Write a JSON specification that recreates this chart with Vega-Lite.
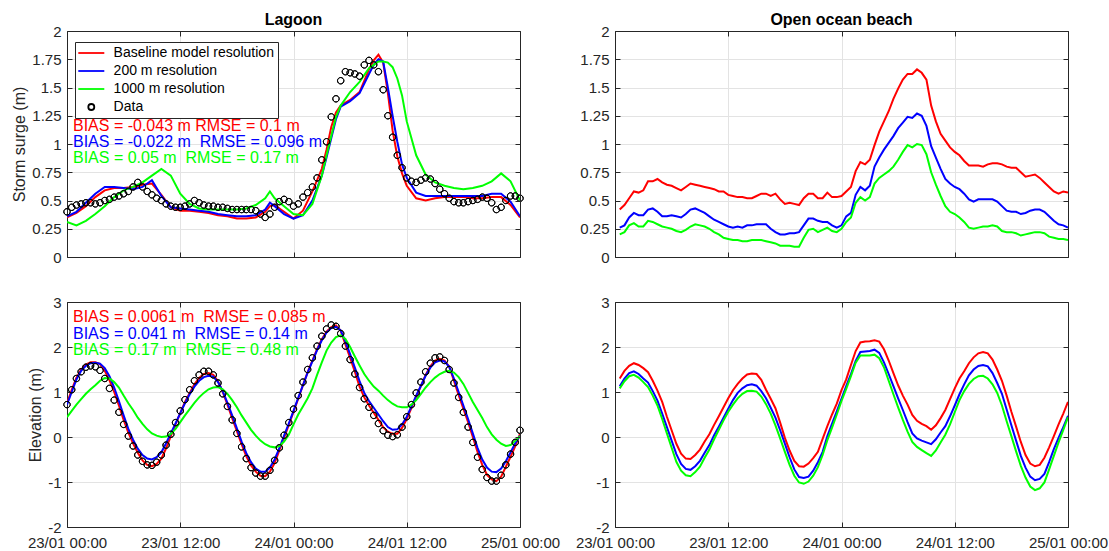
{
"$schema": "https://vega.github.io/schema/vega-lite/v6.json",
"background": "white",
"padding": {"left": 11, "top": 12, "right": 0, "bottom": 0},
"bounds": "flush",
"columns": 2,
"spacing": {"row": 45, "column": 95},
"resolve": {"scale": {"color": "independent", "stroke": "independent", "shape": "independent"}, "legend": {"color": "independent", "stroke": "independent", "shape": "independent"}},
"config": {
  "font": "Liberation Sans",
  "view": {"stroke": null},
  "axis": {"domainColor": "#262626", "domainWidth": 1, "tickColor": "#262626", "tickWidth": 1, "gridColor": "#e3e3e3", "gridWidth": 1, "labelColor": "#262626", "labelFontSize": 15, "titleColor": "#262626", "titleFontSize": 16, "titleFontWeight": "normal"},
  "legend": {"symbolBaseFillColor": "transparent"},
  "title": {"fontSize": 16, "fontWeight": "bold", "color": "#000000", "frame": "group", "offset": -4}
},
"concat": [
{
  "width": 453, "height": 226,
  "title": "Lagoon",
  "layer": [
    {
      "data": {"values": [
{"t":"23 00:00","r":0.35,"b":0.36,"g":0.31},
{"t":"23 01:00","r":0.39,"b":0.40,"g":0.28},
{"t":"23 02:00","r":0.45,"b":0.48,"g":0.32},
{"t":"23 03:00","r":0.53,"b":0.56,"g":0.38},
{"t":"23 04:00","r":0.59,"b":0.62,"g":0.45},
{"t":"23 05:00","r":0.61,"b":0.62,"g":0.53},
{"t":"23 06:00","r":0.61,"b":0.61,"g":0.59},
{"t":"23 07:00","r":0.62,"b":0.60,"g":0.62},
{"t":"23 08:00","r":0.64,"b":0.62,"g":0.66},
{"t":"23 09:00","r":0.65,"b":0.68,"g":0.72},
{"t":"23 10:00","r":0.55,"b":0.54,"g":0.78},
{"t":"23 11:00","r":0.44,"b":0.44,"g":0.72},
{"t":"23 12:00","r":0.41,"b":0.43,"g":0.56},
{"t":"23 13:00","r":0.41,"b":0.42,"g":0.47},
{"t":"23 14:00","r":0.40,"b":0.41,"g":0.43},
{"t":"23 15:00","r":0.39,"b":0.40,"g":0.42},
{"t":"23 16:00","r":0.37,"b":0.38,"g":0.42},
{"t":"23 17:00","r":0.36,"b":0.37,"g":0.42},
{"t":"23 18:00","r":0.34,"b":0.36,"g":0.42},
{"t":"23 19:00","r":0.34,"b":0.36,"g":0.43},
{"t":"23 20:00","r":0.35,"b":0.37,"g":0.46},
{"t":"23 21:00","r":0.40,"b":0.42,"g":0.52},
{"t":"23 21:30","r":0.45,"b":0.48,"g":0.58},
{"t":"23 22:00","r":0.46,"b":0.45,"g":0.52},
{"t":"23 23:00","r":0.40,"b":0.38,"g":0.45},
{"t":"24 00:00","r":0.34,"b":0.34,"g":0.38},
{"t":"24 01:00","r":0.41,"b":0.37,"g":0.37},
{"t":"24 02:00","r":0.58,"b":0.50,"g":0.47},
{"t":"24 03:00","r":0.78,"b":0.72,"g":0.72},
{"t":"24 03:30","r":0.95,"b":0.88,"g":0.90},
{"t":"24 04:00","r":1.15,"b":1.05,"g":1.07},
{"t":"24 04:30","r":1.28,"b":1.22,"g":1.24},
{"t":"24 05:00","r":1.34,"b":1.33,"g":1.34},
{"t":"24 06:00","r":1.39,"b":1.38,"g":1.46},
{"t":"24 07:00","r":1.46,"b":1.45,"g":1.55},
{"t":"24 08:00","r":1.66,"b":1.62,"g":1.67},
{"t":"24 08:30","r":1.74,"b":1.70,"g":1.70},
{"t":"24 09:00","r":1.79,"b":1.75,"g":1.73},
{"t":"24 09:30","r":1.72,"b":1.73,"g":1.73},
{"t":"24 10:00","r":1.45,"b":1.50,"g":1.72},
{"t":"24 10:30","r":1.12,"b":1.25,"g":1.68},
{"t":"24 11:00","r":0.89,"b":1.02,"g":1.58},
{"t":"24 11:30","r":0.74,"b":0.82,"g":1.43},
{"t":"24 12:00","r":0.63,"b":0.70,"g":1.20},
{"t":"24 13:00","r":0.52,"b":0.57,"g":0.90},
{"t":"24 14:00","r":0.50,"b":0.54,"g":0.73},
{"t":"24 15:00","r":0.52,"b":0.54,"g":0.66},
{"t":"24 16:00","r":0.53,"b":0.54,"g":0.63},
{"t":"24 17:00","r":0.53,"b":0.54,"g":0.61},
{"t":"24 18:00","r":0.53,"b":0.54,"g":0.60},
{"t":"24 19:00","r":0.52,"b":0.54,"g":0.61},
{"t":"24 20:00","r":0.52,"b":0.54,"g":0.63},
{"t":"24 21:00","r":0.53,"b":0.56,"g":0.67},
{"t":"24 22:00","r":0.53,"b":0.56,"g":0.74},
{"t":"24 23:00","r":0.46,"b":0.49,"g":0.67},
{"t":"25 00:00","r":0.35,"b":0.36,"g":0.50}
      ], "format": {"parse": {"t": "utc:'%d %H:%M'"}}},
      "transform": [{"fold": ["r", "b", "g"], "as": ["series", "v"]}],
      "mark": {"type": "line", "strokeWidth": 2, "clip": true},
      "encoding": {
        "x": {"field": "t", "type": "temporal",
              "scale": {"type": "utc", "domain": [{"year":1900,"month":1,"date":23,"utc":true},{"year":1900,"month":1,"date":25,"utc":true}]},
              "axis": {"orient": "bottom", "values": [{"year":1900,"month":1,"date":23,"hours":0,"utc":true},{"year":1900,"month":1,"date":23,"hours":12,"utc":true},{"year":1900,"month":1,"date":24,"hours":0,"utc":true},{"year":1900,"month":1,"date":24,"hours":12,"utc":true},{"year":1900,"month":1,"date":25,"hours":0,"utc":true}], "labels": false, "title": null, "grid": true, "tickSize": -5}},
        "y": {"field": "v", "type": "quantitative",
              "scale": {"domain": [0, 2], "nice": false, "zero": false},
              "axis": {"orient": "left", "values": [0,0.25,0.5,0.75,1,1.25,1.5,1.75,2], "labelExpr": "'' + datum.value", "title": "Storm surge (m)", "grid": true, "tickSize": -5, "labelPadding": 11, "titlePadding": 4}},
        "stroke": {"field": "series", "type": "nominal",
                  "scale": {"domain": ["r","b","g","d"], "range": ["#ff0000","#0000ff","#00ff00","#000000"]},
                  "legend": {"orient": "none", "legendX": 8, "legendY": 11, "zindex": 2, "title": null, "labelExpr": "datum.label == 'r' ? 'Baseline model resolution' : datum.label == 'b' ? '200 m resolution' : datum.label == 'g' ? '1000 m resolution' : 'Data'", "labelLimit": 400, "symbolSize": 100, "symbolOffset": 5.3, "labelOffset": 15.3, "symbolStrokeWidth": 1.8, "symbolFillColor": "transparent", "symbolOpacity": 1, "fillColor": "white", "strokeColor": "#262626", "padding": 4, "rowPadding": 4, "labelFontSize": 14, "labelColor": "#000000"}}
      }
    },
    {
      "data": {"values": [
{"t":"23 00:00","v":0.40},{"t":"23 00:30","v":0.44},{"t":"23 01:00","v":0.46},{"t":"23 01:30","v":0.47},
{"t":"23 02:00","v":0.48},{"t":"23 02:30","v":0.48},{"t":"23 03:00","v":0.47},{"t":"23 03:30","v":0.48},
{"t":"23 04:00","v":0.50},{"t":"23 04:30","v":0.51},{"t":"23 05:00","v":0.53},{"t":"23 05:30","v":0.54},
{"t":"23 06:00","v":0.56},{"t":"23 06:30","v":0.58},{"t":"23 07:00","v":0.62},{"t":"23 07:30","v":0.66},
{"t":"23 08:00","v":0.62},{"t":"23 08:30","v":0.58},{"t":"23 09:00","v":0.55},{"t":"23 09:30","v":0.52},
{"t":"23 10:00","v":0.50},{"t":"23 10:30","v":0.47},{"t":"23 11:00","v":0.45},{"t":"23 11:30","v":0.44},
{"t":"23 12:00","v":0.44},{"t":"23 12:30","v":0.45},{"t":"23 13:00","v":0.47},{"t":"23 13:30","v":0.50},
{"t":"23 14:00","v":0.48},{"t":"23 14:30","v":0.46},{"t":"23 15:00","v":0.45},{"t":"23 15:30","v":0.45},
{"t":"23 16:00","v":0.44},{"t":"23 16:30","v":0.44},{"t":"23 17:00","v":0.43},{"t":"23 17:30","v":0.42},
{"t":"23 18:00","v":0.42},{"t":"23 18:30","v":0.42},{"t":"23 19:00","v":0.42},{"t":"23 19:30","v":0.42},
{"t":"23 20:00","v":0.41},{"t":"23 20:30","v":0.38},{"t":"23 21:00","v":0.35},{"t":"23 21:30","v":0.38},
{"t":"23 22:00","v":0.44},{"t":"23 22:30","v":0.49},{"t":"23 23:00","v":0.51},{"t":"23 23:30","v":0.49},
{"t":"24 00:00","v":0.45},{"t":"24 00:30","v":0.47},{"t":"24 01:00","v":0.53},{"t":"24 01:30","v":0.57},
{"t":"24 02:00","v":0.62},{"t":"24 02:30","v":0.70},{"t":"24 03:00","v":0.86},{"t":"24 03:30","v":1.02},
{"t":"24 04:00","v":1.24},{"t":"24 04:30","v":1.40},{"t":"24 05:00","v":1.56},{"t":"24 05:30","v":1.64},
{"t":"24 06:00","v":1.63},{"t":"24 06:30","v":1.62},{"t":"24 07:00","v":1.60},{"t":"24 07:30","v":1.70},
{"t":"24 08:00","v":1.74},{"t":"24 08:30","v":1.70},{"t":"24 09:00","v":1.64},{"t":"24 09:30","v":1.48},
{"t":"24 10:00","v":1.25},{"t":"24 10:30","v":1.06},{"t":"24 11:00","v":0.90},{"t":"24 11:30","v":0.79},
{"t":"24 12:00","v":0.70},{"t":"24 12:30","v":0.67},{"t":"24 13:00","v":0.66},{"t":"24 13:30","v":0.68},
{"t":"24 14:00","v":0.70},{"t":"24 14:30","v":0.69},{"t":"24 15:00","v":0.65},{"t":"24 15:30","v":0.60},
{"t":"24 16:00","v":0.56},{"t":"24 16:30","v":0.52},{"t":"24 17:00","v":0.49},{"t":"24 17:30","v":0.48},
{"t":"24 18:00","v":0.48},{"t":"24 18:30","v":0.49},{"t":"24 19:00","v":0.50},{"t":"24 19:30","v":0.51},
{"t":"24 20:00","v":0.53},{"t":"24 20:30","v":0.52},{"t":"24 21:00","v":0.48},{"t":"24 21:30","v":0.42},
{"t":"24 22:00","v":0.44},{"t":"24 22:30","v":0.50},{"t":"24 23:00","v":0.54},{"t":"24 23:30","v":0.54},
{"t":"25 00:00","v":0.52}
      ], "format": {"parse": {"t": "utc:'%d %H:%M'"}}},
      "mark": {"type": "point", "filled": false, "size": 114, "strokeWidth": 1, "opacity": 1},
      "encoding": {
        "x": {"field": "t", "type": "temporal", "scale": {"type": "utc", "domain": [{"year":1900,"month":1,"date":23,"utc":true},{"year":1900,"month":1,"date":25,"utc":true}]}, "axis": null},
        "y": {"field": "v", "type": "quantitative", "scale": {"domain": [0, 2], "nice": false, "zero": false}, "axis": null},
        "stroke": {"datum": "d", "type": "nominal",
                  "scale": {"domain": ["r","b","g","d"], "range": ["#ff0000","#0000ff","#00ff00","#000000"]},
                  "legend": {"orient": "none", "legendX": 8, "legendY": 11, "zindex": 2, "title": null, "labelExpr": "datum.label == 'r' ? 'Baseline model resolution' : datum.label == 'b' ? '200 m resolution' : datum.label == 'g' ? '1000 m resolution' : 'Data'", "labelLimit": 400, "symbolSize": 100, "symbolOffset": 5.3, "labelOffset": 15.3, "symbolStrokeWidth": 1.8, "symbolFillColor": "transparent", "symbolOpacity": 1, "fillColor": "white", "strokeColor": "#262626", "padding": 4, "rowPadding": 4, "labelFontSize": 14, "labelColor": "#000000"}},
        "shape": {"datum": "d", "type": "nominal",
                  "scale": {"domain": ["r","b","g","d"], "range": ["M-2.6,0H2.6","M-2.6,0H2.6","M-2.6,0H2.6","M0.6,0A0.6,0.6,0,1,1,-0.6,0A0.6,0.6,0,1,1,0.6,0A0.6,0.6,0,1,0,-0.6,0A0.6,0.6,0,1,0,0.6,0Z"]},
                  "legend": {"orient": "none", "legendX": 8, "legendY": 11, "zindex": 2, "title": null, "labelExpr": "datum.label == 'r' ? 'Baseline model resolution' : datum.label == 'b' ? '200 m resolution' : datum.label == 'g' ? '1000 m resolution' : 'Data'", "labelLimit": 400, "symbolSize": 100, "symbolOffset": 5.3, "labelOffset": 15.3, "symbolStrokeWidth": 1.8, "symbolFillColor": "transparent", "symbolOpacity": 1, "fillColor": "white", "strokeColor": "#262626", "padding": 4, "rowPadding": 4, "labelFontSize": 14, "labelColor": "#000000"}}
      }
    },
    {
      "data": {"values": [
        {"t": "23 00:38", "v": 1.161, "series": "r", "label": "BIAS = -0.043 m RMSE = 0.1 m"},
        {"t": "23 00:38", "v": 1.018, "series": "b", "label": "BIAS = -0.022 m\u00a0 RMSE = 0.096 m"},
        {"t": "23 00:38", "v": 0.873, "series": "g", "label": "BIAS = 0.05 m\u00a0 RMSE = 0.17 m"}
      ], "format": {"parse": {"t": "utc:'%d %H:%M'"}}},
      "mark": {"type": "text", "align": "left", "baseline": "middle", "fontSize": 16},
      "encoding": {
        "x": {"field": "t", "type": "temporal", "scale": {"type": "utc", "domain": [{"year":1900,"month":1,"date":23,"utc":true},{"year":1900,"month":1,"date":25,"utc":true}]}, "axis": null},
        "y": {"field": "v", "type": "quantitative", "scale": {"domain": [0, 2], "nice": false, "zero": false}, "axis": null},
        "text": {"field": "label"},
        "color": {"field": "series", "type": "nominal", "scale": {"domain": ["r","b","g","d"], "range": ["#ff0000","#0000ff","#00ff00","#000000"]}, "legend": null}
      }
    },
    {
      "data": {"values": []},
      "mark": "point",
      "encoding": {
        "x": {"field": "t", "type": "temporal", "scale": {"type": "utc", "domain": [{"year":1900,"month":1,"date":23,"utc":true},{"year":1900,"month":1,"date":25,"utc":true}]},
              "axis": {"orient": "top", "values": [{"year":1900,"month":1,"date":23,"hours":0,"utc":true},{"year":1900,"month":1,"date":23,"hours":12,"utc":true},{"year":1900,"month":1,"date":24,"hours":0,"utc":true},{"year":1900,"month":1,"date":24,"hours":12,"utc":true},{"year":1900,"month":1,"date":25,"hours":0,"utc":true}], "labels": false, "title": null, "grid": false, "tickSize": -5, "zindex": 1}},
        "y": {"field": "v", "type": "quantitative", "scale": {"domain": [0, 2], "nice": false, "zero": false},
              "axis": {"orient": "right", "values": [0,0.25,0.5,0.75,1,1.25,1.5,1.75,2], "labels": false, "title": null, "grid": false, "tickSize": -5, "zindex": 1}}
      }
    }
  ]
},
{
  "width": 453, "height": 226,
  "title": "Open ocean beach",
  "layer": [
    {
      "data": {"values": [
{"t":"23 00:30","r":0.42,"b":0.26,"g":0.20},
{"t":"23 01:00","r":0.46,"b":0.28,"g":0.22},
{"t":"23 01:30","r":0.52,"b":0.35,"g":0.28},
{"t":"23 02:00","r":0.58,"b":0.39,"g":0.30},
{"t":"23 02:30","r":0.57,"b":0.37,"g":0.27},
{"t":"23 03:00","r":0.59,"b":0.37,"g":0.27},
{"t":"23 03:30","r":0.67,"b":0.42,"g":0.32},
{"t":"23 04:00","r":0.67,"b":0.43,"g":0.31},
{"t":"23 04:30","r":0.69,"b":0.40,"g":0.29},
{"t":"23 05:00","r":0.66,"b":0.36,"g":0.27},
{"t":"23 05:30","r":0.64,"b":0.36,"g":0.26},
{"t":"23 06:00","r":0.63,"b":0.37,"g":0.25},
{"t":"23 06:30","r":0.61,"b":0.36,"g":0.23},
{"t":"23 07:00","r":0.59,"b":0.35,"g":0.22},
{"t":"23 07:30","r":0.62,"b":0.38,"g":0.24},
{"t":"23 08:00","r":0.65,"b":0.42,"g":0.27},
{"t":"23 08:30","r":0.64,"b":0.43,"g":0.29},
{"t":"23 09:00","r":0.63,"b":0.41,"g":0.28},
{"t":"23 09:30","r":0.62,"b":0.39,"g":0.27},
{"t":"23 10:00","r":0.61,"b":0.36,"g":0.25},
{"t":"23 10:30","r":0.60,"b":0.33,"g":0.22},
{"t":"23 11:00","r":0.58,"b":0.31,"g":0.20},
{"t":"23 11:30","r":0.58,"b":0.29,"g":0.17},
{"t":"23 12:00","r":0.55,"b":0.27,"g":0.16},
{"t":"23 12:30","r":0.54,"b":0.26,"g":0.15},
{"t":"23 13:00","r":0.53,"b":0.27,"g":0.15},
{"t":"23 13:30","r":0.53,"b":0.26,"g":0.14},
{"t":"23 14:00","r":0.52,"b":0.28,"g":0.14},
{"t":"23 14:30","r":0.52,"b":0.28,"g":0.15},
{"t":"23 15:00","r":0.54,"b":0.29,"g":0.15},
{"t":"23 15:30","r":0.56,"b":0.29,"g":0.15},
{"t":"23 16:00","r":0.56,"b":0.29,"g":0.14},
{"t":"23 16:30","r":0.54,"b":0.25,"g":0.13},
{"t":"23 17:00","r":0.56,"b":0.22,"g":0.12},
{"t":"23 17:30","r":0.51,"b":0.20,"g":0.10},
{"t":"23 18:00","r":0.47,"b":0.20,"g":0.10},
{"t":"23 18:30","r":0.48,"b":0.21,"g":0.10},
{"t":"23 19:00","r":0.47,"b":0.21,"g":0.09},
{"t":"23 19:30","r":0.46,"b":0.22,"g":0.09},
{"t":"23 20:00","r":0.52,"b":0.28,"g":0.17},
{"t":"23 20:30","r":0.56,"b":0.34,"g":0.24},
{"t":"23 21:00","r":0.56,"b":0.34,"g":0.25},
{"t":"23 21:30","r":0.52,"b":0.32,"g":0.22},
{"t":"23 22:00","r":0.52,"b":0.31,"g":0.24},
{"t":"23 22:30","r":0.57,"b":0.31,"g":0.26},
{"t":"23 23:00","r":0.53,"b":0.28,"g":0.23},
{"t":"23 23:30","r":0.53,"b":0.26,"g":0.22},
{"t":"24 00:00","r":0.54,"b":0.28,"g":0.25},
{"t":"24 00:30","r":0.58,"b":0.36,"g":0.31},
{"t":"24 01:00","r":0.62,"b":0.39,"g":0.35},
{"t":"24 01:30","r":0.76,"b":0.55,"g":0.48},
{"t":"24 02:00","r":0.84,"b":0.62,"g":0.53},
{"t":"24 02:30","r":0.82,"b":0.59,"g":0.50},
{"t":"24 03:00","r":0.86,"b":0.63,"g":0.53},
{"t":"24 03:30","r":0.99,"b":0.80,"g":0.65},
{"t":"24 04:00","r":1.11,"b":0.88,"g":0.70},
{"t":"24 04:30","r":1.20,"b":0.95,"g":0.73},
{"t":"24 05:00","r":1.29,"b":1.01,"g":0.76},
{"t":"24 05:30","r":1.40,"b":1.07,"g":0.80},
{"t":"24 06:00","r":1.49,"b":1.14,"g":0.86},
{"t":"24 06:30","r":1.57,"b":1.19,"g":0.93},
{"t":"24 07:00","r":1.62,"b":1.24,"g":0.99},
{"t":"24 07:30","r":1.62,"b":1.23,"g":0.97},
{"t":"24 08:00","r":1.66,"b":1.27,"g":1.00},
{"t":"24 08:30","r":1.63,"b":1.25,"g":0.99},
{"t":"24 09:00","r":1.57,"b":1.16,"g":0.91},
{"t":"24 09:30","r":1.34,"b":0.98,"g":0.75},
{"t":"24 10:00","r":1.20,"b":0.88,"g":0.64},
{"t":"24 10:30","r":1.09,"b":0.78,"g":0.54},
{"t":"24 11:00","r":1.03,"b":0.69,"g":0.45},
{"t":"24 11:30","r":0.97,"b":0.65,"g":0.40},
{"t":"24 12:00","r":0.93,"b":0.62,"g":0.38},
{"t":"24 12:30","r":0.90,"b":0.60,"g":0.35},
{"t":"24 13:00","r":0.85,"b":0.56,"g":0.31},
{"t":"24 13:30","r":0.81,"b":0.51,"g":0.26},
{"t":"24 14:00","r":0.81,"b":0.49,"g":0.25},
{"t":"24 14:30","r":0.81,"b":0.51,"g":0.26},
{"t":"24 15:00","r":0.80,"b":0.51,"g":0.27},
{"t":"24 15:30","r":0.82,"b":0.51,"g":0.27},
{"t":"24 16:00","r":0.83,"b":0.51,"g":0.28},
{"t":"24 16:30","r":0.83,"b":0.49,"g":0.27},
{"t":"24 17:00","r":0.82,"b":0.45,"g":0.23},
{"t":"24 17:30","r":0.80,"b":0.41,"g":0.22},
{"t":"24 18:00","r":0.79,"b":0.40,"g":0.22},
{"t":"24 18:30","r":0.79,"b":0.40,"g":0.21},
{"t":"24 19:00","r":0.75,"b":0.38,"g":0.19},
{"t":"24 19:30","r":0.71,"b":0.39,"g":0.20},
{"t":"24 20:00","r":0.72,"b":0.41,"g":0.21},
{"t":"24 20:30","r":0.73,"b":0.42,"g":0.22},
{"t":"24 21:00","r":0.70,"b":0.42,"g":0.22},
{"t":"24 21:30","r":0.66,"b":0.40,"g":0.21},
{"t":"24 22:00","r":0.62,"b":0.36,"g":0.18},
{"t":"24 22:30","r":0.58,"b":0.32,"g":0.17},
{"t":"24 23:00","r":0.56,"b":0.29,"g":0.16},
{"t":"24 23:30","r":0.58,"b":0.28,"g":0.16},
{"t":"25 00:00","r":0.57,"b":0.26,"g":0.15}
      ], "format": {"parse": {"t": "utc:'%d %H:%M'"}}},
      "transform": [{"fold": ["r", "b", "g"], "as": ["series", "v"]}],
      "mark": {"type": "line", "strokeWidth": 2, "clip": true},
      "encoding": {
        "x": {"field": "t", "type": "temporal",
              "scale": {"type": "utc", "domain": [{"year":1900,"month":1,"date":23,"utc":true},{"year":1900,"month":1,"date":25,"utc":true}]},
              "axis": {"orient": "bottom", "values": [{"year":1900,"month":1,"date":23,"hours":0,"utc":true},{"year":1900,"month":1,"date":23,"hours":12,"utc":true},{"year":1900,"month":1,"date":24,"hours":0,"utc":true},{"year":1900,"month":1,"date":24,"hours":12,"utc":true},{"year":1900,"month":1,"date":25,"hours":0,"utc":true}], "labels": false, "title": null, "grid": true, "tickSize": -5}},
        "y": {"field": "v", "type": "quantitative",
              "scale": {"domain": [0, 2], "nice": false, "zero": false},
              "axis": {"orient": "left", "values": [0,0.25,0.5,0.75,1,1.25,1.5,1.75,2], "labelExpr": "'' + datum.value", "title": null, "grid": true, "tickSize": -5, "labelPadding": 11}},
        "stroke": {"field": "series", "type": "nominal",
                  "scale": {"domain": ["r","b","g","d"], "range": ["#ff0000","#0000ff","#00ff00","#000000"]}, "legend": null}
      }
    },
    {
      "data": {"values": []},
      "mark": "point",
      "encoding": {
        "x": {"field": "t", "type": "temporal", "scale": {"type": "utc", "domain": [{"year":1900,"month":1,"date":23,"utc":true},{"year":1900,"month":1,"date":25,"utc":true}]},
              "axis": {"orient": "top", "values": [{"year":1900,"month":1,"date":23,"hours":0,"utc":true},{"year":1900,"month":1,"date":23,"hours":12,"utc":true},{"year":1900,"month":1,"date":24,"hours":0,"utc":true},{"year":1900,"month":1,"date":24,"hours":12,"utc":true},{"year":1900,"month":1,"date":25,"hours":0,"utc":true}], "labels": false, "title": null, "grid": false, "tickSize": -5, "zindex": 1}},
        "y": {"field": "v", "type": "quantitative", "scale": {"domain": [0, 2], "nice": false, "zero": false},
              "axis": {"orient": "right", "values": [0,0.25,0.5,0.75,1,1.25,1.5,1.75,2], "labels": false, "title": null, "grid": false, "tickSize": -5, "zindex": 1}}
      }
    }
  ]
},
{
  "width": 453, "height": 225,
  "data": {"values": [
{"t":"23 00:00","r":0.75,"b":0.72,"g":0.44,"d":0.72},
{"t":"23 00:30","r":1.05,"b":1.00,"g":0.58,"d":1.05},
{"t":"23 01:00","r":1.32,"b":1.28,"g":0.72,"d":1.30},
{"t":"23 01:30","r":1.50,"b":1.47,"g":0.84,"d":1.45},
{"t":"23 02:00","r":1.61,"b":1.58,"g":0.96,"d":1.55},
{"t":"23 02:30","r":1.66,"b":1.64,"g":1.06,"d":1.58},
{"t":"23 03:00","r":1.66,"b":1.65,"g":1.15,"d":1.56},
{"t":"23 03:30","r":1.62,"b":1.63,"g":1.25,"d":1.48},
{"t":"23 04:00","r":1.47,"b":1.53,"g":1.31,"d":1.30},
{"t":"23 04:30","r":1.26,"b":1.35,"g":1.30,"d":1.08},
{"t":"23 05:00","r":1.00,"b":1.10,"g":1.22,"d":0.82},
{"t":"23 05:30","r":0.70,"b":0.80,"g":1.10,"d":0.55},
{"t":"23 06:00","r":0.38,"b":0.48,"g":0.92,"d":0.28},
{"t":"23 06:30","r":0.10,"b":0.18,"g":0.75,"d":0.02},
{"t":"23 07:00","r":-0.14,"b":-0.06,"g":0.60,"d":-0.20},
{"t":"23 07:30","r":-0.35,"b":-0.26,"g":0.43,"d":-0.40},
{"t":"23 08:00","r":-0.52,"b":-0.40,"g":0.29,"d":-0.54},
{"t":"23 08:30","r":-0.62,"b":-0.48,"g":0.17,"d":-0.62},
{"t":"23 09:00","r":-0.65,"b":-0.50,"g":0.08,"d":-0.63},
{"t":"23 09:30","r":-0.60,"b":-0.45,"g":0.03,"d":-0.56},
{"t":"23 10:00","r":-0.48,"b":-0.34,"g":0.00,"d":-0.40},
{"t":"23 10:30","r":-0.25,"b":-0.14,"g":0.01,"d":-0.18},
{"t":"23 11:00","r":0.02,"b":0.08,"g":0.07,"d":0.06},
{"t":"23 11:30","r":0.28,"b":0.30,"g":0.18,"d":0.32},
{"t":"23 12:00","r":0.53,"b":0.53,"g":0.33,"d":0.58},
{"t":"23 12:30","r":0.78,"b":0.75,"g":0.48,"d":0.83},
{"t":"23 13:00","r":0.98,"b":0.95,"g":0.62,"d":1.05},
{"t":"23 13:30","r":1.17,"b":1.12,"g":0.76,"d":1.25},
{"t":"23 14:00","r":1.31,"b":1.25,"g":0.88,"d":1.38},
{"t":"23 14:30","r":1.40,"b":1.33,"g":0.98,"d":1.46},
{"t":"23 15:00","r":1.42,"b":1.36,"g":1.06,"d":1.46},
{"t":"23 15:30","r":1.38,"b":1.34,"g":1.10,"d":1.38},
{"t":"23 16:00","r":1.24,"b":1.22,"g":1.11,"d":1.20},
{"t":"23 16:30","r":1.00,"b":1.02,"g":1.06,"d":0.96},
{"t":"23 17:00","r":0.72,"b":0.76,"g":0.96,"d":0.68},
{"t":"23 17:30","r":0.42,"b":0.48,"g":0.82,"d":0.38},
{"t":"23 18:00","r":0.13,"b":0.19,"g":0.66,"d":0.08},
{"t":"23 18:30","r":-0.16,"b":-0.10,"g":0.48,"d":-0.22},
{"t":"23 19:00","r":-0.43,"b":-0.36,"g":0.32,"d":-0.48},
{"t":"23 19:30","r":-0.63,"b":-0.56,"g":0.16,"d":-0.68},
{"t":"23 20:00","r":-0.77,"b":-0.70,"g":0.03,"d":-0.80},
{"t":"23 20:30","r":-0.86,"b":-0.77,"g":-0.08,"d":-0.87},
{"t":"23 21:00","r":-0.87,"b":-0.77,"g":-0.16,"d":-0.87},
{"t":"23 21:30","r":-0.77,"b":-0.68,"g":-0.21,"d":-0.74},
{"t":"23 22:00","r":-0.58,"b":-0.50,"g":-0.23,"d":-0.52},
{"t":"23 22:30","r":-0.30,"b":-0.25,"g":-0.20,"d":-0.24},
{"t":"23 23:00","r":-0.02,"b":0.03,"g":-0.10,"d":0.04},
{"t":"23 23:30","r":0.27,"b":0.30,"g":0.05,"d":0.32},
{"t":"24 00:00","r":0.56,"b":0.58,"g":0.28,"d":0.62},
{"t":"24 00:30","r":0.85,"b":0.87,"g":0.50,"d":0.92},
{"t":"24 01:00","r":1.15,"b":1.15,"g":0.68,"d":1.22},
{"t":"24 01:30","r":1.44,"b":1.43,"g":0.86,"d":1.50},
{"t":"24 02:00","r":1.70,"b":1.68,"g":1.08,"d":1.76},
{"t":"24 02:30","r":1.95,"b":1.93,"g":1.38,"d":2.02},
{"t":"24 03:00","r":2.17,"b":2.15,"g":1.66,"d":2.24},
{"t":"24 03:30","r":2.34,"b":2.32,"g":1.92,"d":2.40},
{"t":"24 04:00","r":2.44,"b":2.42,"g":2.10,"d":2.49},
{"t":"24 04:30","r":2.48,"b":2.45,"g":2.22,"d":2.46},
{"t":"24 05:00","r":2.36,"b":2.37,"g":2.26,"d":2.30},
{"t":"24 05:30","r":2.06,"b":2.12,"g":2.18,"d":2.02},
{"t":"24 06:00","r":1.76,"b":1.84,"g":2.00,"d":1.72},
{"t":"24 06:30","r":1.45,"b":1.54,"g":1.79,"d":1.40},
{"t":"24 07:00","r":1.12,"b":1.24,"g":1.59,"d":1.10},
{"t":"24 07:30","r":0.88,"b":0.98,"g":1.40,"d":0.85},
{"t":"24 08:00","r":0.70,"b":0.80,"g":1.25,"d":0.66},
{"t":"24 08:30","r":0.54,"b":0.65,"g":1.12,"d":0.48},
{"t":"24 09:00","r":0.38,"b":0.50,"g":1.03,"d":0.30},
{"t":"24 09:30","r":0.22,"b":0.35,"g":0.92,"d":0.14},
{"t":"24 10:00","r":0.12,"b":0.22,"g":0.82,"d":0.04},
{"t":"24 10:30","r":0.07,"b":0.16,"g":0.74,"d":0.01},
{"t":"24 11:00","r":0.07,"b":0.17,"g":0.68,"d":0.05},
{"t":"24 11:30","r":0.20,"b":0.28,"g":0.66,"d":0.22},
{"t":"24 12:00","r":0.40,"b":0.45,"g":0.66,"d":0.45},
{"t":"24 12:30","r":0.65,"b":0.68,"g":0.72,"d":0.72},
{"t":"24 13:00","r":0.90,"b":0.92,"g":0.82,"d":0.98},
{"t":"24 13:30","r":1.13,"b":1.14,"g":0.96,"d":1.22},
{"t":"24 14:00","r":1.38,"b":1.36,"g":1.10,"d":1.45},
{"t":"24 14:30","r":1.57,"b":1.54,"g":1.22,"d":1.64},
{"t":"24 15:00","r":1.70,"b":1.66,"g":1.32,"d":1.76},
{"t":"24 15:30","r":1.74,"b":1.70,"g":1.40,"d":1.78},
{"t":"24 16:00","r":1.70,"b":1.68,"g":1.45,"d":1.70},
{"t":"24 16:30","r":1.56,"b":1.56,"g":1.47,"d":1.50},
{"t":"24 17:00","r":1.25,"b":1.30,"g":1.43,"d":1.20},
{"t":"24 17:30","r":0.93,"b":1.00,"g":1.33,"d":0.88},
{"t":"24 18:00","r":0.63,"b":0.70,"g":1.18,"d":0.55},
{"t":"24 18:30","r":0.33,"b":0.40,"g":0.98,"d":0.22},
{"t":"24 19:00","r":0.00,"b":0.08,"g":0.78,"d":-0.12},
{"t":"24 19:30","r":-0.33,"b":-0.24,"g":0.60,"d":-0.45},
{"t":"24 20:00","r":-0.62,"b":-0.50,"g":0.42,"d":-0.72},
{"t":"24 20:30","r":-0.84,"b":-0.68,"g":0.22,"d":-0.90},
{"t":"24 21:00","r":-0.94,"b":-0.77,"g":0.06,"d":-0.98},
{"t":"24 21:30","r":-0.98,"b":-0.78,"g":-0.06,"d":-0.98},
{"t":"24 22:00","r":-0.88,"b":-0.70,"g":-0.15,"d":-0.85},
{"t":"24 22:30","r":-0.66,"b":-0.54,"g":-0.20,"d":-0.62},
{"t":"24 23:00","r":-0.44,"b":-0.34,"g":-0.18,"d":-0.38},
{"t":"24 23:30","r":-0.20,"b":-0.14,"g":-0.08,"d":-0.12},
{"t":"25 00:00","r":0.07,"b":0.03,"g":0.02,"d":0.15}
  ], "format": {"parse": {"t": "utc:'%d %H:%M'"}}},
  "layer": [
    {
      "transform": [{"fold": ["r", "b", "g"], "as": ["series", "v"]}],
      "mark": {"type": "line", "strokeWidth": 2, "clip": true},
      "encoding": {
        "x": {"field": "t", "type": "temporal",
              "scale": {"type": "utc", "domain": [{"year":1900,"month":1,"date":23,"utc":true},{"year":1900,"month":1,"date":25,"utc":true}]},
              "axis": {"orient": "bottom", "values": [{"year":1900,"month":1,"date":23,"hours":0,"utc":true},{"year":1900,"month":1,"date":23,"hours":12,"utc":true},{"year":1900,"month":1,"date":24,"hours":0,"utc":true},{"year":1900,"month":1,"date":24,"hours":12,"utc":true},{"year":1900,"month":1,"date":25,"hours":0,"utc":true}], "labelExpr": "utcFormat(datum.value, '%d/%m %H:%M')", "labelFlush": false, "labelOverlap": false, "labelPadding": 13, "title": null, "grid": true, "tickSize": -5}},
        "y": {"field": "v", "type": "quantitative",
              "scale": {"domain": [-2, 3], "nice": false, "zero": false},
              "axis": {"orient": "left", "values": [-2,-1,0,1,2,3], "labelExpr": "'' + datum.value", "title": "Elevation (m)", "grid": true, "tickSize": -5, "labelPadding": 11, "titlePadding": 4}},
        "stroke": {"field": "series", "type": "nominal",
                  "scale": {"domain": ["r","b","g","d"], "range": ["#ff0000","#0000ff","#00ff00","#000000"]}, "legend": null}
      }
    },
    {
      "mark": {"type": "point", "filled": false, "size": 114, "strokeWidth": 1, "opacity": 1},
      "encoding": {
        "x": {"field": "t", "type": "temporal", "scale": {"type": "utc", "domain": [{"year":1900,"month":1,"date":23,"utc":true},{"year":1900,"month":1,"date":25,"utc":true}]}, "axis": null},
        "y": {"field": "d", "type": "quantitative", "scale": {"domain": [-2, 3], "nice": false, "zero": false}, "axis": null},
        "stroke": {"datum": "d", "type": "nominal", "scale": {"domain": ["r","b","g","d"], "range": ["#ff0000","#0000ff","#00ff00","#000000"]}, "legend": null},
        "shape": {"datum": "d", "type": "nominal", "scale": {"domain": ["r","b","g","d"], "range": ["M-2.6,0H2.6","M-2.6,0H2.6","M-2.6,0H2.6","M0.6,0A0.6,0.6,0,1,1,-0.6,0A0.6,0.6,0,1,1,0.6,0A0.6,0.6,0,1,0,-0.6,0A0.6,0.6,0,1,0,0.6,0Z"]}, "legend": null}
      }
    },
    {
      "data": {"values": [
        {"t": "23 00:38", "v": 2.662, "series": "r", "label": "BIAS = 0.0061 m\u00a0 RMSE = 0.085 m"},
        {"t": "23 00:38", "v": 2.296, "series": "b", "label": "BIAS = 0.041 m\u00a0 RMSE = 0.14 m"},
        {"t": "23 00:38", "v": 1.927, "series": "g", "label": "BIAS = 0.17 m\u00a0 RMSE = 0.48 m"}
      ], "format": {"parse": {"t": "utc:'%d %H:%M'"}}},
      "mark": {"type": "text", "align": "left", "baseline": "middle", "fontSize": 16},
      "encoding": {
        "x": {"field": "t", "type": "temporal", "scale": {"type": "utc", "domain": [{"year":1900,"month":1,"date":23,"utc":true},{"year":1900,"month":1,"date":25,"utc":true}]}, "axis": null},
        "y": {"field": "v", "type": "quantitative", "scale": {"domain": [-2, 3], "nice": false, "zero": false}, "axis": null},
        "text": {"field": "label"},
        "color": {"field": "series", "type": "nominal", "scale": {"domain": ["r","b","g","d"], "range": ["#ff0000","#0000ff","#00ff00","#000000"]}, "legend": null}
      }
    },
    {
      "data": {"values": []},
      "mark": "point",
      "encoding": {
        "x": {"field": "t", "type": "temporal", "scale": {"type": "utc", "domain": [{"year":1900,"month":1,"date":23,"utc":true},{"year":1900,"month":1,"date":25,"utc":true}]},
              "axis": {"orient": "top", "values": [{"year":1900,"month":1,"date":23,"hours":0,"utc":true},{"year":1900,"month":1,"date":23,"hours":12,"utc":true},{"year":1900,"month":1,"date":24,"hours":0,"utc":true},{"year":1900,"month":1,"date":24,"hours":12,"utc":true},{"year":1900,"month":1,"date":25,"hours":0,"utc":true}], "labels": false, "title": null, "grid": false, "tickSize": -5, "zindex": 1}},
        "y": {"field": "v", "type": "quantitative", "scale": {"domain": [-2, 3], "nice": false, "zero": false},
              "axis": {"orient": "right", "values": [-2,-1,0,1,2,3], "labels": false, "title": null, "grid": false, "tickSize": -5, "zindex": 1}}
      }
    }
  ]
},
{
  "width": 453, "height": 225,
  "layer": [
    {
      "data": {"values": [
{"t":"23 00:30","r":1.30,"b":1.13,"g":1.08},
{"t":"23 01:00","r":1.47,"b":1.30,"g":1.24},
{"t":"23 01:30","r":1.58,"b":1.42,"g":1.35},
{"t":"23 02:00","r":1.64,"b":1.46,"g":1.38},
{"t":"23 02:30","r":1.60,"b":1.40,"g":1.32},
{"t":"23 03:00","r":1.53,"b":1.30,"g":1.22},
{"t":"23 03:30","r":1.44,"b":1.21,"g":1.11},
{"t":"23 04:00","r":1.25,"b":1.02,"g":0.92},
{"t":"23 04:30","r":1.03,"b":0.81,"g":0.70},
{"t":"23 05:00","r":0.78,"b":0.52,"g":0.40},
{"t":"23 05:30","r":0.45,"b":0.22,"g":0.08},
{"t":"23 06:00","r":0.15,"b":-0.08,"g":-0.24},
{"t":"23 06:30","r":-0.15,"b":-0.38,"g":-0.55},
{"t":"23 07:00","r":-0.37,"b":-0.60,"g":-0.75},
{"t":"23 07:30","r":-0.48,"b":-0.71,"g":-0.85},
{"t":"23 08:00","r":-0.49,"b":-0.73,"g":-0.87},
{"t":"23 08:30","r":-0.40,"b":-0.65,"g":-0.78},
{"t":"23 09:00","r":-0.28,"b":-0.53,"g":-0.66},
{"t":"23 09:30","r":-0.10,"b":-0.35,"g":-0.46},
{"t":"23 10:00","r":0.06,"b":-0.18,"g":-0.28},
{"t":"23 10:30","r":0.27,"b":0.04,"g":-0.05},
{"t":"23 11:00","r":0.46,"b":0.23,"g":0.16},
{"t":"23 11:30","r":0.66,"b":0.43,"g":0.37},
{"t":"23 12:00","r":0.86,"b":0.63,"g":0.56},
{"t":"23 12:30","r":1.04,"b":0.82,"g":0.72},
{"t":"23 13:00","r":1.18,"b":0.98,"g":0.86},
{"t":"23 13:30","r":1.30,"b":1.08,"g":0.96},
{"t":"23 14:00","r":1.39,"b":1.15,"g":1.02},
{"t":"23 14:30","r":1.41,"b":1.17,"g":1.03},
{"t":"23 15:00","r":1.40,"b":1.14,"g":1.01},
{"t":"23 15:30","r":1.27,"b":1.02,"g":0.90},
{"t":"23 16:00","r":1.05,"b":0.86,"g":0.73},
{"t":"23 16:30","r":0.85,"b":0.65,"g":0.52},
{"t":"23 17:00","r":0.64,"b":0.43,"g":0.26},
{"t":"23 17:30","r":0.32,"b":0.15,"g":-0.03},
{"t":"23 18:00","r":-0.02,"b":-0.15,"g":-0.33},
{"t":"23 18:30","r":-0.30,"b":-0.45,"g":-0.62},
{"t":"23 19:00","r":-0.53,"b":-0.72,"g":-0.86},
{"t":"23 19:30","r":-0.65,"b":-0.89,"g":-1.01},
{"t":"23 20:00","r":-0.66,"b":-0.91,"g":-1.04},
{"t":"23 20:30","r":-0.59,"b":-0.88,"g":-0.99},
{"t":"23 21:00","r":-0.47,"b":-0.75,"g":-0.86},
{"t":"23 21:30","r":-0.33,"b":-0.56,"g":-0.67},
{"t":"23 22:00","r":-0.04,"b":-0.33,"g":-0.40},
{"t":"23 22:30","r":0.24,"b":0.02,"g":-0.07},
{"t":"23 23:00","r":0.50,"b":0.30,"g":0.21},
{"t":"23 23:30","r":0.74,"b":0.57,"g":0.50},
{"t":"24 00:00","r":1.04,"b":0.85,"g":0.80},
{"t":"24 00:30","r":1.28,"b":1.13,"g":1.07},
{"t":"24 01:00","r":1.60,"b":1.40,"g":1.35},
{"t":"24 01:30","r":1.91,"b":1.69,"g":1.65},
{"t":"24 02:00","r":2.10,"b":1.89,"g":1.81},
{"t":"24 02:30","r":2.12,"b":1.90,"g":1.81},
{"t":"24 03:00","r":2.13,"b":1.91,"g":1.81},
{"t":"24 03:30","r":2.15,"b":1.94,"g":1.83},
{"t":"24 04:00","r":2.12,"b":1.87,"g":1.75},
{"t":"24 04:30","r":1.95,"b":1.66,"g":1.55},
{"t":"24 05:00","r":1.70,"b":1.40,"g":1.25},
{"t":"24 05:30","r":1.42,"b":1.13,"g":0.95},
{"t":"24 06:00","r":1.15,"b":0.86,"g":0.66},
{"t":"24 06:30","r":0.92,"b":0.60,"g":0.38},
{"t":"24 07:00","r":0.72,"b":0.33,"g":0.12},
{"t":"24 07:30","r":0.49,"b":0.08,"g":-0.11},
{"t":"24 08:00","r":0.36,"b":-0.03,"g":-0.22},
{"t":"24 08:30","r":0.29,"b":-0.08,"g":-0.29},
{"t":"24 09:00","r":0.24,"b":-0.12,"g":-0.36},
{"t":"24 09:30","r":0.16,"b":-0.16,"g":-0.42},
{"t":"24 10:00","r":0.26,"b":-0.05,"g":-0.30},
{"t":"24 10:30","r":0.42,"b":0.10,"g":-0.12},
{"t":"24 11:00","r":0.60,"b":0.24,"g":0.05},
{"t":"24 11:30","r":0.84,"b":0.46,"g":0.28},
{"t":"24 12:00","r":1.08,"b":0.70,"g":0.55},
{"t":"24 12:30","r":1.30,"b":0.95,"g":0.82},
{"t":"24 13:00","r":1.46,"b":1.17,"g":1.02},
{"t":"24 13:30","r":1.64,"b":1.37,"g":1.18},
{"t":"24 14:00","r":1.77,"b":1.50,"g":1.29},
{"t":"24 14:30","r":1.86,"b":1.58,"g":1.35},
{"t":"24 15:00","r":1.89,"b":1.60,"g":1.36},
{"t":"24 15:30","r":1.86,"b":1.57,"g":1.30},
{"t":"24 16:00","r":1.72,"b":1.42,"g":1.17},
{"t":"24 16:30","r":1.50,"b":1.20,"g":0.98},
{"t":"24 17:00","r":1.25,"b":0.96,"g":0.70},
{"t":"24 17:30","r":0.92,"b":0.61,"g":0.35},
{"t":"24 18:00","r":0.56,"b":0.26,"g":0.02},
{"t":"24 18:30","r":0.23,"b":-0.08,"g":-0.32},
{"t":"24 19:00","r":-0.11,"b":-0.42,"g":-0.64},
{"t":"24 19:30","r":-0.40,"b":-0.68,"g":-0.90},
{"t":"24 20:00","r":-0.59,"b":-0.88,"g":-1.10},
{"t":"24 20:30","r":-0.65,"b":-0.96,"g":-1.18},
{"t":"24 21:00","r":-0.62,"b":-0.93,"g":-1.14},
{"t":"24 21:30","r":-0.46,"b":-0.82,"g":-1.01},
{"t":"24 22:00","r":-0.23,"b":-0.56,"g":-0.72},
{"t":"24 22:30","r":0.02,"b":-0.27,"g":-0.42},
{"t":"24 23:00","r":0.28,"b":-0.02,"g":-0.12},
{"t":"24 23:30","r":0.52,"b":0.22,"g":0.16},
{"t":"25 00:00","r":0.78,"b":0.47,"g":0.44}
      ], "format": {"parse": {"t": "utc:'%d %H:%M'"}}},
      "transform": [{"fold": ["r", "b", "g"], "as": ["series", "v"]}],
      "mark": {"type": "line", "strokeWidth": 2, "clip": true},
      "encoding": {
        "x": {"field": "t", "type": "temporal",
              "scale": {"type": "utc", "domain": [{"year":1900,"month":1,"date":23,"utc":true},{"year":1900,"month":1,"date":25,"utc":true}]},
              "axis": {"orient": "bottom", "values": [{"year":1900,"month":1,"date":23,"hours":0,"utc":true},{"year":1900,"month":1,"date":23,"hours":12,"utc":true},{"year":1900,"month":1,"date":24,"hours":0,"utc":true},{"year":1900,"month":1,"date":24,"hours":12,"utc":true},{"year":1900,"month":1,"date":25,"hours":0,"utc":true}], "labelExpr": "utcFormat(datum.value, '%d/%m %H:%M')", "labelFlush": false, "labelOverlap": false, "labelPadding": 13, "title": null, "grid": true, "tickSize": -5}},
        "y": {"field": "v", "type": "quantitative",
              "scale": {"domain": [-2, 3], "nice": false, "zero": false},
              "axis": {"orient": "left", "values": [-2,-1,0,1,2,3], "labelExpr": "'' + datum.value", "title": null, "grid": true, "tickSize": -5, "labelPadding": 11}},
        "stroke": {"field": "series", "type": "nominal",
                  "scale": {"domain": ["r","b","g","d"], "range": ["#ff0000","#0000ff","#00ff00","#000000"]}, "legend": null}
      }
    },
    {
      "data": {"values": []},
      "mark": "point",
      "encoding": {
        "x": {"field": "t", "type": "temporal", "scale": {"type": "utc", "domain": [{"year":1900,"month":1,"date":23,"utc":true},{"year":1900,"month":1,"date":25,"utc":true}]},
              "axis": {"orient": "top", "values": [{"year":1900,"month":1,"date":23,"hours":0,"utc":true},{"year":1900,"month":1,"date":23,"hours":12,"utc":true},{"year":1900,"month":1,"date":24,"hours":0,"utc":true},{"year":1900,"month":1,"date":24,"hours":12,"utc":true},{"year":1900,"month":1,"date":25,"hours":0,"utc":true}], "labels": false, "title": null, "grid": false, "tickSize": -5, "zindex": 1}},
        "y": {"field": "v", "type": "quantitative", "scale": {"domain": [-2, 3], "nice": false, "zero": false},
              "axis": {"orient": "right", "values": [-2,-1,0,1,2,3], "labels": false, "title": null, "grid": false, "tickSize": -5, "zindex": 1}}
      }
    }
  ]
}
]
}
